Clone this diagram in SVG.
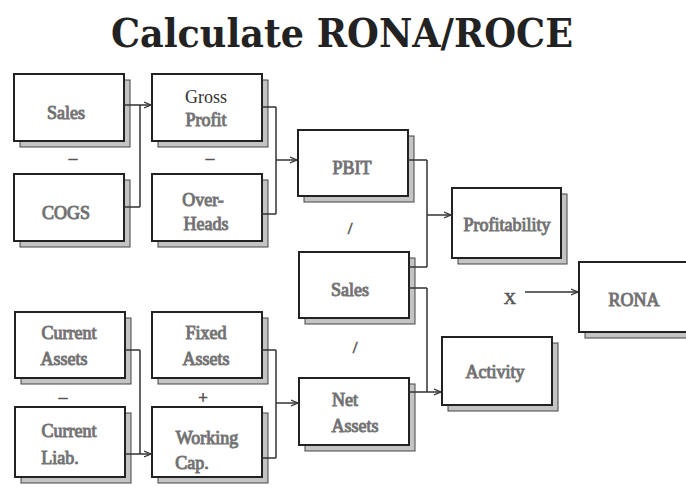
<svg xmlns="http://www.w3.org/2000/svg" width="686" height="487" viewBox="0 0 686 487">
<defs>
<style>
.ttl{font-family:"DejaVu Serif","Liberation Serif",serif;font-size:40px;font-weight:bold;fill:#222;text-anchor:middle}
.sh{fill:#c4c4c4;stroke:#444;stroke-width:1}
.bx{fill:#fff;stroke:#222;stroke-width:2}
.t{font-family:"Liberation Serif","Times New Roman",serif;font-size:18px;font-weight:normal;fill:#666;text-anchor:middle;stroke:#777;stroke-width:1}
.op{font-family:"Liberation Serif","Times New Roman",serif;font-size:17px;fill:#555;stroke:#555;stroke-width:0.6;text-anchor:middle}
.c{fill:none;stroke:#333;stroke-width:1.5}
</style>
<marker id="ah" markerWidth="8" markerHeight="8" refX="7" refY="4" orient="auto" markerUnits="userSpaceOnUse">
<path d="M0,1 L7,4 L0,7" fill="none" stroke="#333" stroke-width="1.2"/>
</marker>
</defs>
<rect width="686" height="487" fill="#fff"/>
<text class="ttl" x="342" y="47" textLength="462" lengthAdjust="spacingAndGlyphs">Calculate RONA/ROCE</text>

<g id="sales1"><rect class="sh" x="20" y="80" width="110" height="67"/><rect class="bx" x="14" y="74" width="110" height="67"/><text class="t" x="66" y="119">Sales</text></g>
<g id="cogs"><rect class="sh" x="20" y="180" width="110" height="67"/><rect class="bx" x="14" y="174" width="110" height="67"/><text class="t" x="66" y="219">COGS</text></g>
<g id="grossprofit"><rect class="sh" x="158" y="80" width="110" height="67"/><rect class="bx" x="152" y="74" width="110" height="67"/><text class="t" x="206" y="103" style="fill:#333;stroke:none">Gross</text><text class="t" x="206" y="126">Profit</text></g>
<g id="overheads"><rect class="sh" x="158" y="180" width="110" height="67"/><rect class="bx" x="152" y="174" width="110" height="67"/><text class="t" x="203" y="206">Over-</text><text class="t" x="206" y="230">Heads</text></g>
<g id="pbit"><rect class="sh" x="304" y="136" width="110" height="66"/><rect class="bx" x="298" y="130" width="110" height="66"/><text class="t" x="352" y="174">PBIT</text></g>
<g id="sales2"><rect class="sh" x="305" y="258" width="110" height="66"/><rect class="bx" x="299" y="252" width="110" height="66"/><text class="t" x="350" y="296">Sales</text></g>
<g id="netassets"><rect class="sh" x="305" y="384" width="110" height="67"/><rect class="bx" x="299" y="378" width="110" height="67"/><text class="t" x="345" y="406">Net</text><text class="t" x="355" y="432">Assets</text></g>
<g id="profitability"><rect class="sh" x="458" y="194" width="109" height="70"/><rect class="bx" x="452" y="188" width="109" height="70"/><text class="t" x="507" y="231">Profitability</text></g>
<g id="activity"><rect class="sh" x="448" y="343" width="110" height="68"/><rect class="bx" x="442" y="337" width="110" height="68"/><text class="t" x="495" y="378">Activity</text></g>
<g id="rona"><rect class="sh" x="585" y="268" width="110" height="70"/><rect class="bx" x="579" y="262" width="110" height="70"/><text class="t" x="634" y="306">RONA</text></g>
<g id="currentassets"><rect class="sh" x="21" y="318" width="110" height="66"/><rect class="bx" x="15" y="312" width="110" height="66"/><text class="t" x="69" y="339">Current</text><text class="t" x="64" y="365">Assets</text></g>
<g id="currentliab"><rect class="sh" x="21" y="413" width="110" height="70"/><rect class="bx" x="15" y="407" width="110" height="70"/><text class="t" x="69" y="437">Current</text><text class="t" x="60" y="464">Liab.</text></g>
<g id="fixedassets"><rect class="sh" x="158" y="318" width="110" height="66"/><rect class="bx" x="152" y="312" width="110" height="66"/><text class="t" x="206" y="339">Fixed</text><text class="t" x="206" y="365">Assets</text></g>
<g id="workingcap"><rect class="sh" x="158" y="413" width="110" height="70"/><rect class="bx" x="152" y="407" width="110" height="70"/><text class="t" x="207" y="444">Working</text><text class="t" x="192" y="469">Cap.</text></g>

<g id="operators">
<text class="op" x="73" y="163">–</text>
<text class="op" x="210" y="163">–</text>
<text class="op" x="350" y="234">/</text>
<text class="op" x="355" y="353">/</text>
<text class="op" x="63" y="402">–</text>
<text class="op" x="203" y="403">+</text>
<text class="op" x="510" y="304">X</text>
</g>

<g id="connectors">
<path class="c" d="M124,105 H140 M124,207 H140 M140,105 V207"/>
<path class="c" d="M140,105 H151" marker-end="url(#ah)"/>
<path class="c" d="M262,107 H276 M262,214 H276 M276,107 V214"/>
<path class="c" d="M276,160 H297" marker-end="url(#ah)"/>
<path class="c" d="M408,160 H427 M409,267 H427 M427,160 V267"/>
<path class="c" d="M427,215 H451" marker-end="url(#ah)"/>
<path class="c" d="M409,288 H427 M409,392 H427 M427,288 V392"/>
<path class="c" d="M427,392 H441" marker-end="url(#ah)"/>
<path class="c" d="M125,350 H140 M125,454 H140 M140,350 V454"/>
<path class="c" d="M140,454 H151" marker-end="url(#ah)"/>
<path class="c" d="M262,350 H276 M262,458 H276 M276,350 V458"/>
<path class="c" d="M276,403 H298" marker-end="url(#ah)"/>
<path class="c" d="M525,292 H578" marker-end="url(#ah)"/>
</g>
</svg>
